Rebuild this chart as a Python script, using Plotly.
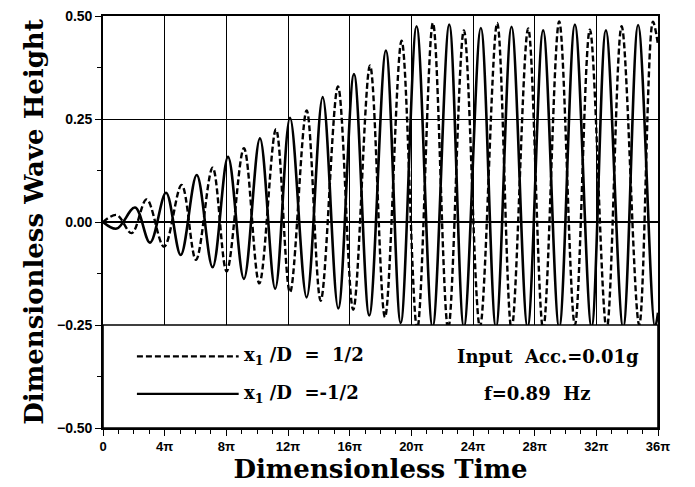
import plotly.graph_objects as go

# time in units of pi (dimensionless time / pi)
solid_t = [0, 0.89, 2.08, 3.05, 4.09, 5.04, 6.08, 7.11, 8.11, 9.14,
           10.18, 11.17, 12.13, 13.21, 14.25, 15.26, 16.28, 17.27, 18.35, 19.31,
           20.34, 21.38, 22.46, 23.41, 24.51, 25.49, 26.50, 27.54, 28.55, 29.59,
           30.61, 31.69, 32.62, 33.74, 34.71, 35.80, 36.0]
solid_h = [0, -0.016, 0.035, -0.05, 0.071, -0.08, 0.114, -0.11, 0.158, -0.138,
           0.203, -0.162, 0.253, -0.183, 0.303, -0.21, 0.359, -0.227, 0.416, -0.245,
           0.475, -0.255, 0.479, -0.255, 0.471, -0.256, 0.474, -0.255, 0.465, -0.256,
           0.479, -0.255, 0.465, -0.256, 0.478, -0.256, -0.22]

dashed_t = [0, 0.89, 1.86, 2.83, 3.96, 5.10, 6.03, 7.11, 8.02, 9.14,
            10.14, 11.22, 12.13, 13.21, 14.12, 15.24, 16.23, 17.32, 18.29, 19.37,
            20.38, 21.40, 22.39, 23.41, 24.45, 25.57, 26.50, 27.58, 28.55, 29.59,
            30.61, 31.58, 32.67, 33.64, 34.78, 35.67, 36.0]
dashed_h = [0, 0.017, -0.027, 0.055, -0.06, 0.090, -0.092, 0.132, -0.12, 0.179,
            -0.149, 0.225, -0.171, 0.271, -0.191, 0.329, -0.213, 0.38, -0.231, 0.44,
            -0.26, 0.483, -0.26, 0.465, -0.255, 0.483, -0.26, 0.47, -0.26, 0.487,
            -0.25, 0.467, -0.26, 0.475, -0.25, 0.486, 0.43]

x_tickvals = [0, 4, 8, 12, 16, 20, 24, 28, 32, 36]
x_ticktext = ["0", "4π", "8π", "12π", "16π", "20π", "24π", "28π", "32π", "36π"]
y_tickvals = [-0.5, -0.25, 0.0, 0.25, 0.5]

legend_dashed = "x<sub>1</sub>\u00a0/D\u00a0\u00a0=\u00a0\u00a01/2"
legend_solid = "x<sub>1</sub>\u00a0/D\u00a0\u00a0=-1/2"
info_acc = "Input\u00a0\u00a0Acc.=0.01g"
info_f = "f=0.89\u00a0\u00a0Hz"

serif = "DejaVu Serif"
sans = "Liberation Sans"

fig = go.Figure()
fig.add_trace(go.Scatter(x=dashed_t, y=dashed_h, mode="lines",
                         line=dict(color="black", width=2.4, dash="6px,3px", shape="spline", smoothing=1.0),
                         showlegend=False))
fig.add_trace(go.Scatter(x=solid_t, y=solid_h, mode="lines",
                         line=dict(color="black", width=2.6, shape="spline", smoothing=1.0),
                         showlegend=False))

# legend box (white, covers lower part)
fig.add_shape(type="rect", x0=0, x1=36, y0=-0.5, y1=-0.25, xref="x", yref="y",
              fillcolor="white", line=dict(color="black", width=1.6), layer="above")
# legend sample lines
fig.add_shape(type="line", x0=2.2, x1=8.8, y0=-0.326, y1=-0.326, xref="x", yref="y",
              line=dict(color="black", width=2.2, dash="6px,3px"), layer="above")
fig.add_shape(type="line", x0=2.2, x1=8.8, y0=-0.417, y1=-0.417, xref="x", yref="y",
              line=dict(color="black", width=2.2), layer="above")

tfont = dict(family=serif, size=18, color="black", weight="bold")
fig.add_annotation(x=9.0, y=-0.326, text=legend_dashed, showarrow=False,
                   xanchor="left", yanchor="middle", font=tfont)
fig.add_annotation(x=9.0, y=-0.417, text=legend_solid, showarrow=False,
                   xanchor="left", yanchor="middle", font=tfont)
fig.add_annotation(x=22.8, y=-0.326, text=info_acc, showarrow=False,
                   xanchor="left", yanchor="middle", font=tfont)
fig.add_annotation(x=24.6, y=-0.417, text=info_f, showarrow=False,
                   xanchor="left", yanchor="middle", font=tfont)

fig.update_layout(
    width=695, height=487,
    margin=dict(l=103, r=37, t=8, b=59),
    plot_bgcolor="white", paper_bgcolor="white",
)
fig.update_xaxes(
    range=[0, 36], tickvals=x_tickvals, ticktext=x_ticktext,
    showgrid=True, gridcolor="black", gridwidth=1.3,
    showline=True, linecolor="black", linewidth=1.6, mirror=True,
    ticks="outside", ticklen=6, tickcolor="black", tickwidth=1.2,
    minor=dict(dtick=1, tick0=0, ticks="outside", ticklen=4, tickcolor="black", showgrid=False),
    tickfont=dict(family=sans, size=13, color="black", weight="bold"),
    title=dict(text="Dimensionless Time", font=dict(family=serif, size=26, color="black", weight="bold"), standoff=2),
    zeroline=False,
)
fig.update_yaxes(
    range=[-0.5, 0.5], tickvals=y_tickvals, tickformat=".2f",
    showgrid=True, gridcolor="black", gridwidth=1.3,
    showline=True, linecolor="black", linewidth=1.6, mirror=True,
    ticks="outside", ticklen=6, tickcolor="black", tickwidth=1.2,
    minor=dict(dtick=0.125, tick0=0, ticks="outside", ticklen=4, tickcolor="black", showgrid=False),
    tickfont=dict(family=sans, size=14, color="black", weight="bold"),
    title=dict(text="Dimensionless Wave Height", font=dict(family=serif, size=26, color="black", weight="bold"), standoff=6),
    zeroline=True, zerolinecolor="black", zerolinewidth=1.6,
)

fig.write_html("out.html")
